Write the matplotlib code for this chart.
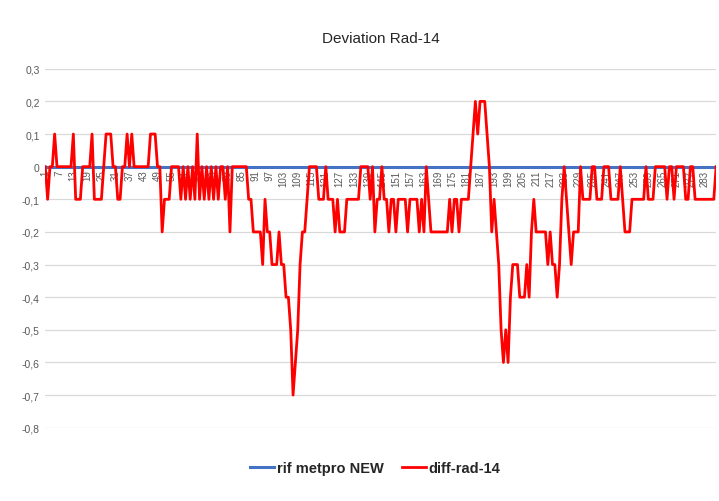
import matplotlib.pyplot as plt
from matplotlib.ticker import FuncFormatter

# diff-rad-14 values, one per category (1..288)
diff_rad = [
    0, -0.1, 0, 0, 0.1, 0, 0, 0, 0, 0,
    0, 0, 0.1, -0.1, -0.1, -0.1, 0, 0, 0, 0,
    0.1, -0.1, -0.1, -0.1, -0.1, 0, 0.1, 0.1, 0.1, 0,
    0, -0.1, -0.1, 0, 0, 0.1, 0, 0.1, 0, 0,
    0, 0, 0, 0, 0, 0.1, 0.1, 0.1, 0, 0,
    -0.2, -0.1, -0.1, -0.1, 0, 0, 0, 0, -0.1, 0,
    -0.1, 0, -0.1, 0, -0.1, 0.1, -0.1, 0, -0.1, 0,
    -0.1, 0, -0.1, 0, -0.1, 0, 0, -0.1, 0, -0.2,
    0, 0, 0, 0, 0, 0, 0, -0.1, -0.1, -0.2,
    -0.2, -0.2, -0.2, -0.3, -0.1, -0.2, -0.2, -0.3, -0.3, -0.3,
    -0.2, -0.3, -0.3, -0.4, -0.4, -0.5, -0.7, -0.6, -0.5, -0.3,
    -0.2, -0.2, -0.1, 0, 0, 0, 0, -0.1, -0.1, -0.1,
    0, -0.1, -0.1, -0.1, -0.2, -0.1, -0.2, -0.2, -0.2, -0.1,
    -0.1, -0.1, -0.1, -0.1, -0.1, 0, 0, 0, 0, -0.1,
    0, -0.2, -0.1, -0.1, 0, -0.1, -0.1, -0.2, -0.1, -0.1,
    -0.2, -0.1, -0.1, -0.1, -0.1, -0.2, -0.1, -0.1, -0.1, -0.1,
    -0.2, -0.1, -0.2, 0, -0.1, -0.2, -0.2, -0.2, -0.2, -0.2,
    -0.2, -0.2, -0.2, -0.1, -0.2, -0.1, -0.1, -0.2, -0.1, -0.1,
    -0.1, -0.1, 0, 0.1, 0.2, 0.1, 0.2, 0.2, 0.2, 0.1,
    0, -0.2, -0.1, -0.2, -0.3, -0.5, -0.6, -0.5, -0.6, -0.4,
    -0.3, -0.3, -0.3, -0.4, -0.4, -0.4, -0.3, -0.4, -0.2, -0.1,
    -0.2, -0.2, -0.2, -0.2, -0.2, -0.3, -0.2, -0.3, -0.3, -0.4,
    -0.3, -0.1, 0, -0.1, -0.2, -0.3, -0.2, -0.2, -0.2, 0,
    -0.1, -0.1, -0.1, -0.1, 0, 0, -0.1, -0.1, -0.1, 0,
    0, 0, -0.1, -0.1, -0.1, -0.1, 0, -0.1, -0.2, -0.2,
    -0.2, -0.1, -0.1, -0.1, -0.1, -0.1, -0.1, 0, -0.1, -0.1,
    -0.1, 0, 0, 0, 0, 0, -0.1, 0, 0, -0.1,
    0, 0, 0, 0, -0.1, -0.1, 0, 0, -0.1, -0.1,
    -0.1, -0.1, -0.1, -0.1, -0.1, -0.1, -0.1, 0,
]
categories = list(range(1, len(diff_rad) + 1))
rif_metpro = [0] * len(diff_rad)
y_ticks = [0.3, 0.2, 0.1, 0, -0.1, -0.2, -0.3, -0.4, -0.5, -0.6, -0.7, -0.8]

plt.rcParams['font.family'] = ['Liberation Sans', 'DejaVu Sans']

fig = plt.figure(figsize=(7.19, 5.02), dpi=100)
ax = fig.add_axes([0.063, 0.146, 0.933, 0.715])

ax.plot(categories, rif_metpro, color='#4472C4', lw=2.2, label='rif metpro NEW', zorder=3)
ax.plot(categories, diff_rad, color='#FF0000', lw=2.0, label='diff-rad-14', zorder=4)

ax.set_xlim(1, len(diff_rad))
ax.set_ylim(-0.8, 0.3)
ax.set_yticks(y_ticks)
ax.yaxis.set_major_formatter(FuncFormatter(
    lambda v, p: '0' if abs(v) < 1e-9 else f'{v:.1f}'.replace('.', ',')))
ax.grid(axis='y', color='#D9D9D9', lw=0.9)
ax.set_axisbelow(True)

# category axis crosses at zero, labels every 6th category
ax.spines['bottom'].set_position(('data', 0))
ax.spines['bottom'].set_color('#D9D9D9')
for s in ['top', 'right', 'left']:
    ax.spines[s].set_visible(False)
ax.set_xticks(categories[::6])
ax.tick_params(axis='x', length=0, rotation=90, labelsize=7, colors='#595959', pad=2)
ax.tick_params(axis='y', length=0, labelsize=7.5, colors='#595959', pad=4)

ax.set_title('Deviation Rad-14', fontsize=11, color='#262626', pad=19)

fig.legend(loc='lower center', bbox_to_anchor=(0.522, 0.025), ncol=2, frameon=False,
           handlelength=1.6, handletextpad=0.2, columnspacing=1.3,
           prop={'weight': 'bold', 'size': 10.5}, labelcolor='#262626')

fig.savefig('out.png', dpi=100)
